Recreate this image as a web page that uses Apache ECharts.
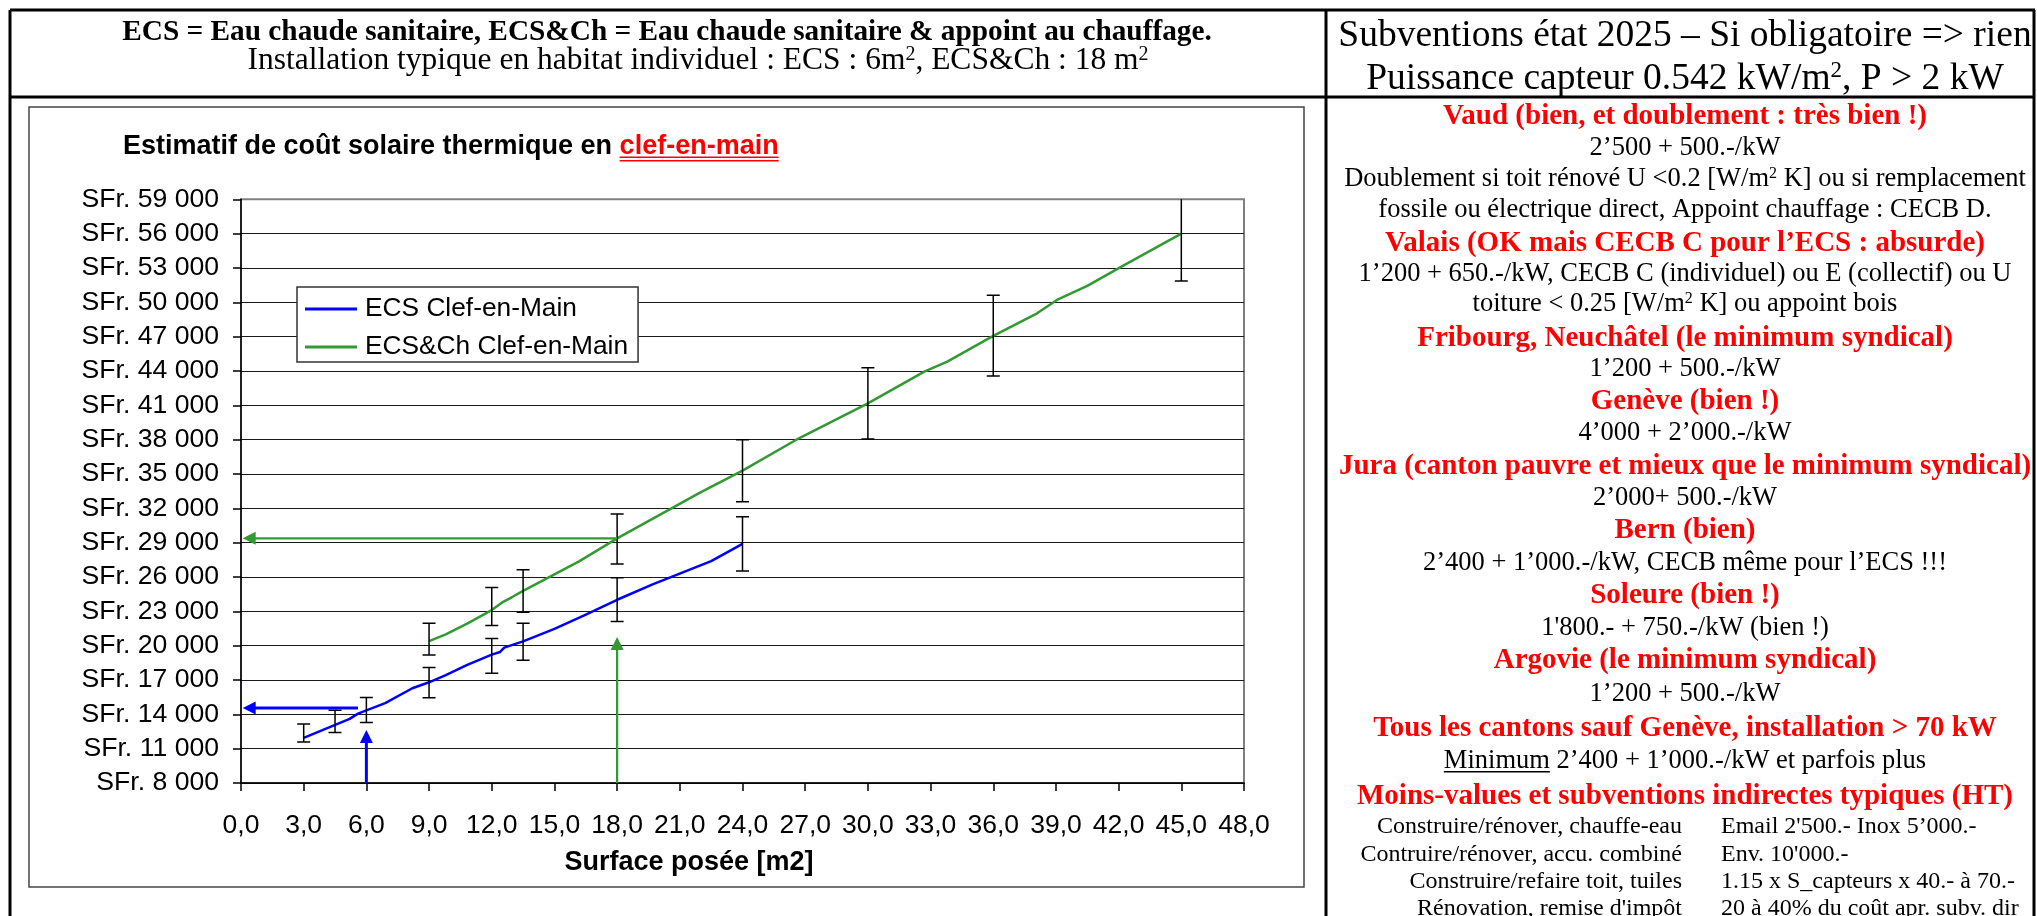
<!DOCTYPE html>
<html><head><meta charset="utf-8">
<script src="https://cdn.jsdelivr.net/npm/echarts@6/dist/echarts.min.js"></script>
<style>html,body{margin:0;padding:0;background:#fff}#c{width:2037px;height:916px}</style>
</head><body><div id="c"></div>
<script>
// ---------------- DATA ----------------
const seriesNames = ['ECS Clef-en-Main', 'ECS&Ch Clef-en-Main'];
// ECS line (surface m2 / cost SFr.)
const ecsSurface = [3, 5.2, 5.6, 6, 6.9, 8.2, 9, 9.8, 10.8, 12, 12.4, 12.6, 13.5, 15, 16.4, 18, 19.7, 22.5, 24];
const ecsCost    = [11950, 13600, 14060, 14350, 14980, 16280, 16800, 17430, 18300, 19220, 19450, 19830, 20370, 21470, 22620, 24010, 25360, 27380, 28900];
// ECS&Ch line
const chSurface = [9, 9.8, 10.8, 12, 12.5, 13, 13.5, 15, 16.2, 18, 21.9, 24, 26.7, 30, 32.7, 33.8, 36, 38.1, 39.1, 40.5, 42.2, 45];
const chCost    = [20400, 20980, 21900, 23110, 23780, 24270, 24790, 26230, 27380, 29370, 33310, 35290, 38120, 41170, 43940, 44810, 47060, 49040, 50260, 51430, 53180, 56000];
// error bars
const ecsErrSurface = [3, 4.5, 6, 9, 12, 13.5, 18, 24];
const ecsErrLow     = [11580, 12410, 13280, 15440, 17600, 18730, 22100, 26530];
const ecsErrHigh    = [13160, 14350, 15470, 18100, 20630, 21960, 25940, 31270];
const chErrSurface  = [9, 12, 13.5, 18, 24, 30, 36, 45];
const chErrLow      = [19190, 21760, 22910, 27140, 32580, 38060, 43560, 51860];
const chErrHigh     = [21960, 25080, 26630, 31510, 38000, 44290, 50610, 60100];
// reading arrows [x from, y from, x to, y to]
const ecsArrows = [[5.6, 14550, 0.08, 14550], [6, 8000, 6, 12620]];
const chArrows  = [[18, 29380, 0.08, 29380], [18, 8000, 18, 20750]];
// axes
const xMin = 0, xMax = 48, xStep = 3;
const yMin = 8000, yMax = 59000, yStep = 3000;

// ---------------- TEXT ----------------
const headerLeft1 = 'ECS = Eau chaude sanitaire, ECS&Ch = Eau chaude sanitaire & appoint au chauffage.';
const headerLeft2 = 'Installation typique en habitat individuel : ECS : 6m{s|2}, ECS&Ch : 18 m{s|2}';
const chartTitleA = 'Estimatif de coût solaire thermique en ';
const chartTitleB = 'clef-en-main';
const xAxisName = 'Surface posée [m2]';
// kind: H header, R red heading, N normal
const panelLines = [
  ['H', 'Subventions état 2025 – Si obligatoire => rien', 45],
  ['H', 'Puissance capteur 0.542 kW/m{s|2}, P > 2 kW', 88],
  ['R', 'Vaud (bien, et doublement : très bien !)', 123.3],
  ['N', '2’500 + 500.-/kW', 154],
  ['N', 'Doublement si toit rénové U <0.2 [W/m{s|2} K] ou si remplacement', 185],
  ['N', 'fossile ou électrique direct, Appoint chauffage : CECB D.', 216],
  ['R', 'Valais (OK mais CECB C pour l’ECS : absurde)', 250],
  ['N', '1’200 + 650.-/kW, CECB C (individuel) ou E (collectif) ou U', 280],
  ['N', 'toiture < 0.25 [W/m{s|2} K] ou appoint bois', 310],
  ['R', 'Fribourg, Neuchâtel (le minimum syndical)', 345],
  ['N', '1’200 + 500.-/kW', 375],
  ['R', 'Genève (bien !)', 408.3],
  ['N', '4’000 + 2’000.-/kW', 438.3],
  ['R', 'Jura (canton pauvre et mieux que le minimum syndical)', 473.3],
  ['N', '2’000+ 500.-/kW', 503.3],
  ['R', 'Bern (bien)', 537.3],
  ['N', '2’400 + 1’000.-/kW, CECB même pour l’ECS !!!', 568.3],
  ['R', 'Soleure (bien !)', 601.7],
  ['N', "1'800.- + 750.-/kW (bien !)", 633.3],
  ['R', 'Argovie (le minimum syndical)', 666.7],
  ['N', '1’200 + 500.-/kW', 700],
  ['R', 'Tous les cantons sauf Genève, installation > 70 kW', 735],
  ['N', 'Minimum 2’400 + 1’000.-/kW et parfois plus', 766.7],
  ['R', 'Moins-values et subventions indirectes typiques (HT)', 802.7]
];
const tableLeft  = ['Construire/rénover, chauffe-eau', 'Contruire/rénover, accu. combiné', 'Construire/refaire toit, tuiles', "Rénovation, remise d'impôt"];
const tableRight = ["Email 2'500.- Inox 5’000.-", "Env. 10'000.-", '1.15 x S_capteurs x 40.- à 70.-', '20 à 40% du coût apr. subv. dir'];
const tableBaselines = [831.7, 859.3, 886.7, 913];

// ---------------- LAYOUT / STYLE ----------------
const SANS = '"Liberation Sans", Arial, sans-serif';
const SERIF = '"Liberation Serif", "Times New Roman", serif';
const BLUE = '#0000FF', GREEN = '#339933', RED = '#FF0000';
const mctx = document.createElement('canvas').getContext('2d');
function tw(t, font) { mctx.font = font; return mctx.measureText(t).width; }
const kinds = {
  H: {fontSize: 37.5, fontWeight: 'normal', fill: '#000'},
  R: {fontSize: 29, fontWeight: 'bold', fill: RED},
  N: {fontSize: 26.5, fontWeight: 'normal', fill: '#000'}
};
function supStyle(size) { return {fontSize: size, fontFamily: SERIF, fill: '#000', color: '#000', verticalAlign: 'top'}; }

const graphics = [];
function txt(text, x, baseline, fs, weight, fill, align) {
  graphics.push({type: 'text', x: x, y: baseline - 0.34 * fs + 3.5, z: 10, silent: true,
    style: {text: text, fontSize: fs, fontWeight: weight, fontFamily: SERIF, fill: fill,
      align: align || 'center', verticalAlign: 'middle',
      rich: {s: supStyle(Math.round(fs * 0.62))}}});
}
function hline(x1, y1, x2, y2, color, w) {
  graphics.push({type: 'line', silent: true, z: 20, shape: {x1, y1, x2, y2}, style: {stroke: color, lineWidth: w}});
}
// table frame
hline(10, 10, 2035, 10, '#000', 3);
hline(10, 97, 2035, 97, '#000', 3);
hline(10, 10, 10, 916, '#000', 3);
hline(1326, 10, 1326, 916, '#000', 3);
hline(2034, 10, 2034, 916, '#000', 3);
// chart area border
graphics.push({type: 'rect', silent: true, z: 1, shape: {x: 29, y: 107, width: 1275, height: 780}, style: {fill: 'none', stroke: '#444', lineWidth: 1.5}});
// left header
txt(headerLeft1, 667, 38.5, 29.3, 'bold', '#000');
txt(headerLeft2, 698, 67.5, 31.5, 'normal', '#000');
// right panel
const panelX = 1685;
panelLines.forEach(function (l) {
  const k = kinds[l[0]];
  txt(l[1], panelX, l[2], k.fontSize, k.fontWeight, k.fill);
  if (l[1].indexOf('Minimum') === 0) {
    const f = k.fontSize + 'px ' + SERIF;
    const w = tw(l[1], f), left = panelX - w / 2;
    hline(left, l[2] + 5, left + tw('Minimum', f), l[2] + 5, '#000', 1.5);
  }
});
tableLeft.forEach(function (t, i) { txt(t, 1682, tableBaselines[i], 24, 'normal', '#000', 'right'); });
tableRight.forEach(function (t, i) { txt(t, 1721, tableBaselines[i], 24, 'normal', '#000', 'left'); });
// title underline
const titleFont = 'bold 27px ' + SANS;
const titleLeft = 123;
const ulx0 = titleLeft + tw(chartTitleA, titleFont), ulx1 = ulx0 + tw(chartTitleB, titleFont);
hline(ulx0, 157.3, ulx1, 157.3, RED, 1.6);
hline(ulx0, 160.7, ulx1, 160.7, RED, 1.6);

function errRender(params, api) {
  const x = api.value(0);
  const pHi = api.coord([x, api.value(2)]), pLo = api.coord([x, api.value(1)]);
  const hw = 6.5, st = {stroke: '#000', lineWidth: 1.5, fill: 'none'};
  return {type: 'group', children: [
    {type: 'line', shape: {x1: pHi[0], y1: pHi[1], x2: pLo[0], y2: pLo[1]}, style: st},
    {type: 'line', shape: {x1: pHi[0] - hw, y1: pHi[1], x2: pHi[0] + hw, y2: pHi[1]}, style: st},
    {type: 'line', shape: {x1: pLo[0] - hw, y1: pLo[1], x2: pLo[0] + hw, y2: pLo[1]}, style: st}
  ]};
}
function arrowRender(color, width) {
  return function (params, api) {
    const p0 = api.coord([api.value(0), api.value(1)]);
    const p1 = api.coord([api.value(2), api.value(3)]);
    const dx = p1[0] - p0[0], dy = p1[1] - p0[1], len = Math.hypot(dx, dy);
    const ux = dx / len, uy = dy / len, hl = 13, hw = 6.5;
    const b = [p1[0] - ux * hl, p1[1] - uy * hl];
    return {type: 'group', children: [
      {type: 'line', shape: {x1: p0[0], y1: p0[1], x2: b[0] + ux, y2: b[1] + uy}, style: {stroke: color, lineWidth: width}},
      {type: 'polygon', shape: {points: [p1, [b[0] - uy * hw, b[1] + ux * hw], [b[0] + uy * hw, b[1] - ux * hw]]}, style: {fill: color}}
    ]};
  };
}
const splitColors = [];
for (let v = yMin; v <= yMax; v += yStep) splitColors.push(v === yMax ? '#808080' : '#1a1a1a');

const chart = echarts.init(document.getElementById('c'), null, {renderer: 'canvas'});
chart.setOption({
  backgroundColor: '#fff',
  animation: false,
  title: {
    left: titleLeft, top: 133.5, padding: 0,
    text: '{a|' + chartTitleA + '}{b|' + chartTitleB + '}',
    textStyle: {rich: {
      a: {fontFamily: SANS, fontSize: 27, fontWeight: 'bold', color: '#000'},
      b: {fontFamily: SANS, fontSize: 27, fontWeight: 'bold', color: RED}
    }}
  },
  legend: {
    data: seriesNames, orient: 'vertical', left: 297, top: 287,
    padding: [7, 10, 0, 8], itemGap: 8, itemWidth: 52, itemHeight: 3, icon: 'rect',
    backgroundColor: '#fff', borderColor: '#333', borderWidth: 1.5,
    textStyle: {fontFamily: SANS, fontSize: 26.3, color: '#000', lineHeight: 30, padding: [0, 0, 0, 3]}
  },
  grid: {left: 241, right: 793, top: 199.3, bottom: 133, show: true, borderColor: '#808080', borderWidth: 2, backgroundColor: '#fff'},
  xAxis: {
    type: 'value', min: xMin, max: xMax, interval: xStep,
    name: xAxisName, nameLocation: 'middle', nameGap: 66,
    nameTextStyle: {fontFamily: SANS, fontSize: 27, fontWeight: 'bold', color: '#000', padding: [0, 107, 0, 0]},
    axisLine: {show: true, lineStyle: {color: '#000', width: 1.5}},
    axisTick: {show: true, inside: false, length: 8, lineStyle: {color: '#000', width: 1.5}},
    axisLabel: {margin: 29, fontFamily: SANS, fontSize: 26.5, color: '#000',
      formatter: function (v) { return v.toFixed(1).replace('.', ','); }},
    splitLine: {show: false}
  },
  yAxis: {
    type: 'value', min: yMin, max: yMax, interval: yStep,
    axisLine: {show: true, lineStyle: {color: '#000', width: 1.5}},
    axisTick: {show: true, inside: false, length: 8, lineStyle: {color: '#000', width: 1.5}},
    axisLabel: {margin: 22, fontFamily: SANS, fontSize: 26.6, color: '#000',
      formatter: function (v) { return 'SFr. ' + Math.round(v / 1000) + ' 000'; }},
    splitLine: {show: true, lineStyle: {color: splitColors, width: 1.2}}
  },
  series: [
    {name: seriesNames[0], type: 'line', data: ecsSurface.map(function (x, i) { return [x, ecsCost[i]]; }),
      showSymbol: false, symbol: 'none', color: BLUE, lineStyle: {color: BLUE, width: 2.5}, z: 4},
    {name: seriesNames[1], type: 'line', data: chSurface.map(function (x, i) { return [x, chCost[i]]; }),
      showSymbol: false, symbol: 'none', color: GREEN, lineStyle: {color: GREEN, width: 2.5}, z: 4},
    {name: 'err-ecs', type: 'custom', renderItem: errRender, clip: true, z: 5,
      encode: {x: 0, y: [1, 2]},
      data: ecsErrSurface.map(function (x, i) { return [x, ecsErrLow[i], ecsErrHigh[i]]; })},
    {name: 'err-ch', type: 'custom', renderItem: errRender, clip: true, z: 5,
      encode: {x: 0, y: [1, 2]},
      data: chErrSurface.map(function (x, i) { return [x, chErrLow[i], chErrHigh[i]]; })},
    {name: 'arrows-ecs', type: 'custom', renderItem: arrowRender(BLUE, 3), clip: false, z: 6,
      encode: {x: [0, 2], y: [1, 3]}, data: ecsArrows},
    {name: 'arrows-ch', type: 'custom', renderItem: arrowRender(GREEN, 2.2), clip: false, z: 6,
      encode: {x: [0, 2], y: [1, 3]}, data: chArrows}
  ],
  graphic: graphics
});
</script>
</body></html>
